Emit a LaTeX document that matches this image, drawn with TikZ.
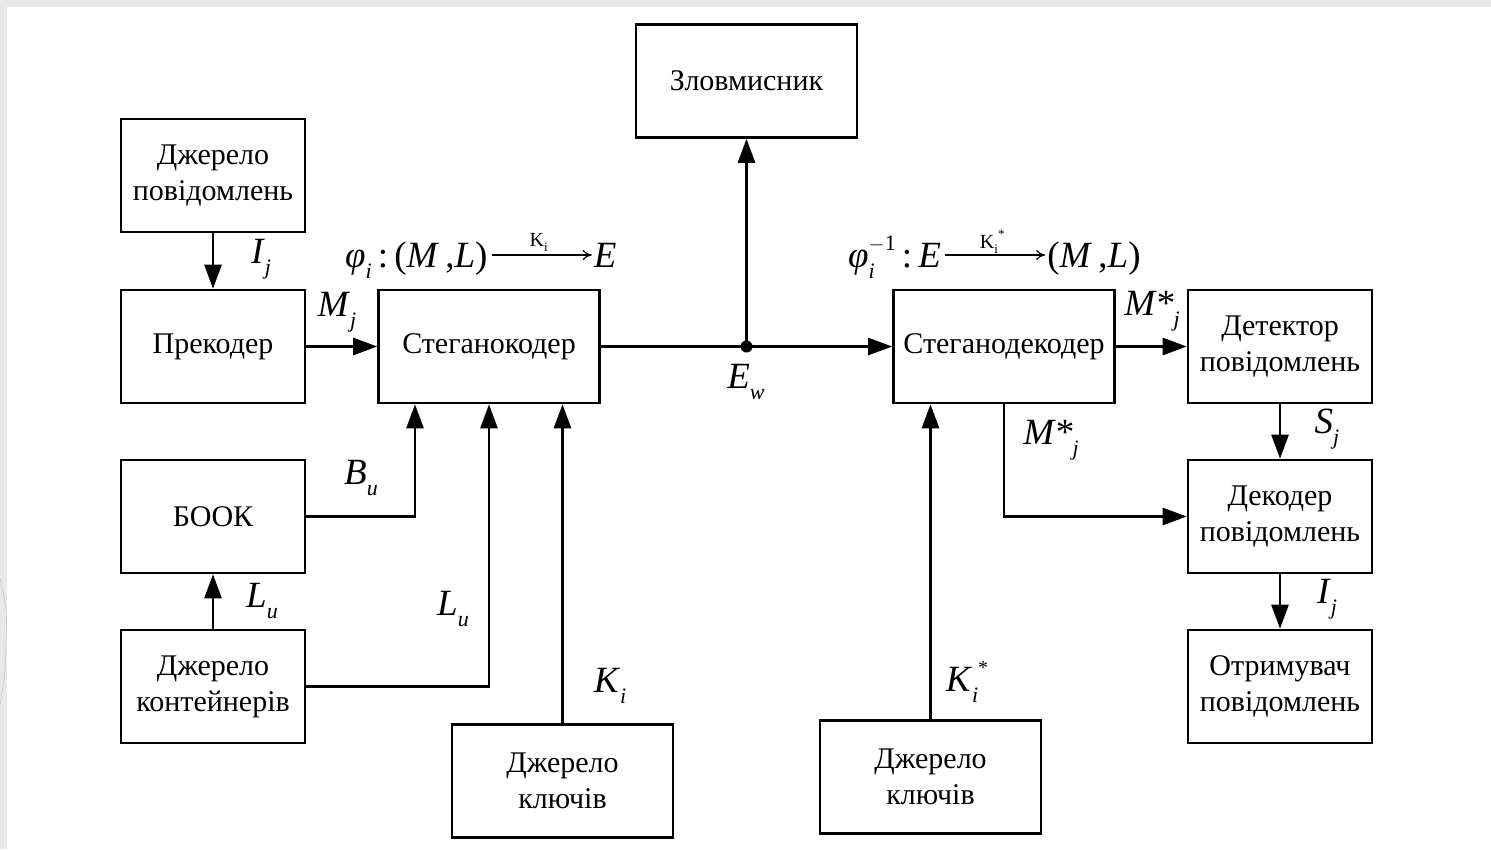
\documentclass[tikz,border=0pt]{standalone}
\usepackage{fontspec}
\setmainfont{Liberation Serif}
\usetikzlibrary{arrows.meta,calc}
\newcommand\sbs[1]{\raisebox{-0.3em}{\fontsize{22}{22}\selectfont\textit{#1}}}
\newcommand\lab[2]{\textit{#1}\sbs{#2}}
\begin{document}
\begin{tikzpicture}[x=1pt,y=-1pt,
  box/.style={draw, line width=2.6pt, minimum width=184pt, minimum height=113pt, inner sep=0pt, align=center, font=\fontsize{30}{36}\selectfont},
  wbox/.style={box, minimum width=221pt},
  arr/.style={line width=2.6pt, -{Triangle[length=24pt,width=17pt]}},
  lbl/.style={font=\fontsize{37}{38}\selectfont, inner sep=0pt},
  tarr/.style={line width=1.2pt, -{To[length=9pt,width=10pt]}}]
\useasboundingbox (0,0) rectangle (1491,849);
\fill[white] (0,0) rectangle (1491,849);
\fill[gray!18] (0,0) rectangle (1491,7);
\fill[gray!18] (0,0) rectangle (7,849);
\draw[gray!45, line width=0.6pt] (0,578) .. controls (7,610) .. (6,645) .. controls (5,675) .. (0,705);
% boxes
\node[wbox] (zl)   at (746.5,81)   {Зловмисник};
\node[box]  (src)  at (213,175.5)  {Джерело\\повідомлень};
\node[box]  (pre)  at (213,346.5)  {Прекодер};
\node[wbox] (enc)  at (489,346.5)  {Стеганокодер};
\node[box]  (book) at (213,516.5)  {БООК};
\node[box]  (cont) at (213,686.5)  {Джерело\\контейнерів};
\node[wbox] (keyL) at (562.5,781)  {Джерело\\ключів};
\node[wbox] (dec)  at (1004,346.5) {Стеганодекодер};
\node[box]  (det)  at (1280,346.5) {Детектор\\повідомлень};
\node[box]  (mdec) at (1280,516.5) {Декодер\\повідомлень};
\node[box]  (recv) at (1280,686.5) {Отримувач\\повідомлень};
\node[wbox] (keyR) at (930.5,777)  {Джерело\\ключів};
% connectors
\draw[arr] (src) -- (pre);
\draw[arr] (pre) -- (enc);
\draw[arr] (enc) -- (dec);
\coordinate (ew) at (746.5,346.5);
\fill (ew) circle (6pt);
\draw[arr] (ew) -- (zl);
\draw[arr] (book.east) -| ([xshift=-74pt]enc.south);
\draw[arr] (cont.east) -| (enc.south);
\draw[arr] (keyL.north) -- (keyL.north |- enc.south);
\draw[arr] (cont) -- (book);
\draw[arr] (keyR.north) -- (keyR.north |- dec.south);
\draw[arr] (dec) -- (det);
\draw[arr] (dec.south) |- (mdec.west);
\draw[arr] (det) -- (mdec);
\draw[arr] (mdec) -- (recv);
% labels
\node[lbl] (lI1) at (261,259) {\lab{I}{j}};
\node[lbl] (lM)  at (337,312) {\lab{M}{j}};
\node[lbl] (lE)  at (746,382) {\lab{E}{w}};
\node[lbl] (lB)  at (361,478) {\lab{B}{u}};
\node[lbl] (lL1) at (262,601) {\lab{L}{u}};
\node[lbl] (lL2) at (453,609) {\lab{L}{u}};
\node[lbl] (lK1) at (610,686) {\lab{K}{i}};
\node[lbl] (lK2) at (967,682) {\textit{K}\sbs{i}\raisebox{0.45em}{\fontsize{20}{20}\selectfont *}};
\node[lbl] (lM1) at (1152,311) {\textit{M*}\sbs{j}};
\node[lbl] (lM2) at (1051,440) {\textit{M*}\sbs{j}};
\node[lbl] (lS)  at (1327,429) {\lab{S}{j}};
\node[lbl] (lI2) at (1327,599) {\lab{I}{j}};
% formulas
\node[lbl, anchor=base west] (f1) at (345,267) {\lab{φ}{i}\,:\,(\textit{M}\,,\textit{L})};
\coordinate (f1a) at ($(f1.base east)+(4,-12)$);
\coordinate (f1b) at ($(f1a)+(100,0)$);
\draw[tarr] (f1a) -- (f1b);
\node[inner sep=0pt, font=\fontsize{20}{20}\selectfont] (f1k) at ($(f1a)!0.47!(f1b)+(0,-13)$) {K\raisebox{-0.25em}{\fontsize{13}{13}\selectfont i}};
\node[lbl, anchor=base west] (f2e0) at (848,267) {\textit{φ}\raisebox{-0.3em}{\fontsize{22}{22}\selectfont\shortstack[l]{$-$1\\[8pt]\textit{i}}}\,:\,\textit{E}};
\coordinate (f2a) at ($(f2e0.base east)+(4,-12)$);
\coordinate (f2b) at ($(f2a)+(100,0)$);
\draw[tarr] (f2a) -- (f2b);
\node[inner sep=0pt, font=\fontsize{20}{20}\selectfont] (f2k) at ($(f2a)!0.47!(f2b)+(0,-13)$) {K\raisebox{-0.25em}{\fontsize{13}{13}\selectfont i}\raisebox{0.5em}{\fontsize{13}{13}\selectfont *}};
\node[lbl, anchor=base west] (f2e) at ($(f2e0.base east)+(106,0)$) {(\textit{M}\,,\textit{L})};
\node[lbl, anchor=base west] (f1e) at ($(f1.base east)+(106,0)$) {\textit{E}};
\end{tikzpicture}
\end{document}
